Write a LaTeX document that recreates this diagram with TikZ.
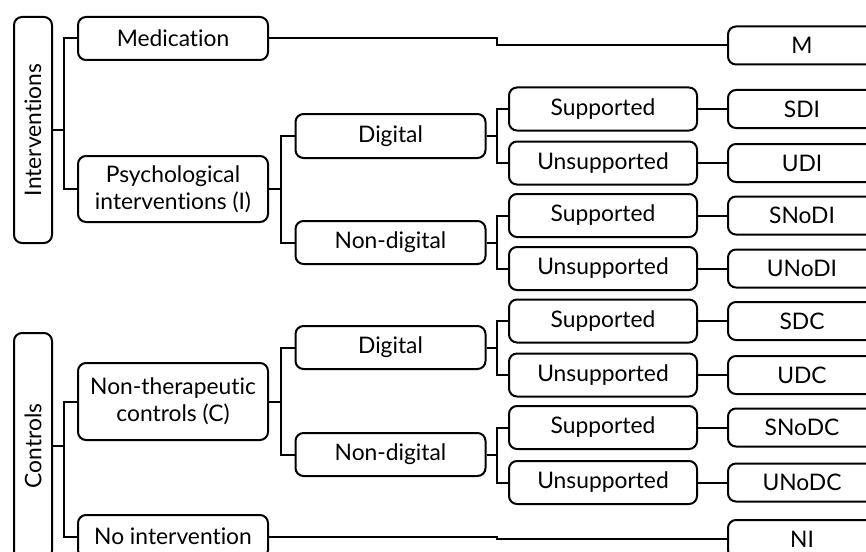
\documentclass[tikz,border=0pt]{standalone}
\usepackage{fontspec}
\setmainfont{Lato}[Ligatures=NoCommon]
\usepackage{tikz}
\usetikzlibrary{calc}

\tikzset{
	box/.style = {draw, line width=1pt, rounded corners=4pt, align=center, inner sep=0pt,
		font=\fontsize{11.4}{13.5}\selectfont, minimum width=95pt, minimum height=21.5pt},
	side/.style = {box, rotate=90, minimum width=113pt, minimum height=19pt},
	sub/.style = {box, minimum width=94pt},
	res/.style = {box, minimum width=74pt, minimum height=19pt},
}

\begin{document}
\begin{tikzpicture}[x=0.5pt, y=-0.5pt, line width=1pt]
		\useasboundingbox (0,0) rectangle (866,551);
		\clip (0,0) rectangle (866,551);
	
		\coordinate (j1) at (64,0);
		\coordinate (j2) at (281,0);
		\coordinate (j3) at (497,0);
	
		\node [side] (intv) at (33,130) {Interventions};
		\node [side] (ctrl) at (33,446) {Controls};
	
		\node [box] (med) at (173,38.5) {Medication};
		\node [box, minimum height=33pt] (psy) at (173,189) {Psychological\\interventions (I)};
		\node [box, minimum height=38.5pt] (ntc) at (173,401.5) {Non-therapeutic\\controls (C)};
		\node [box] (noi) at (173,536.5) {No intervention};
	
		\node [box, minimum height=22pt] (dig1) at (390.5,136) {Digital};
		\node [box] (nd1) at (390.5,242.5) {Non-digital};
		\node [box] (dig2) at (390.5,347.5) {Digital};
		\node [box] (nd2) at (390.5,454.5) {Non-digital};
	
		\foreach \n/\y/\t/\r in {s1/109/Supported/SDI, u1/163/Unsupported/UDI,
				s2/215.5/Supported/SNoDI, u2/268.5/Unsupported/UNoDI,
				s3/321/Supported/SDC, u3/375/Unsupported/UDC,
				s4/427.5/Supported/SNoDC, u4/482.5/Unsupported/UNoDC} {
			\node [sub] (\n) at (603,\y) {\t};
			\node [res] (\r) at (802,\y) {\r};
			\draw (\n) -- (\r);
		}
	
		\node [res] (M) at (802,45.5) {M};
		\node [res] (NI) at (802,539) {NI};
	
		\foreach \p/\a/\b/\j in {intv.south/med/psy/j1, ctrl.south/ntc/noi/j1,
				psy.east/dig1/nd1/j2, ntc.east/dig2/nd2/j2,
				dig1.east/s1/u1/j3, nd1.east/s2/u2/j3,
				dig2.east/s3/u3/j3, nd2.east/s4/u4/j3}
			\draw (\p) -- (\p -| \j) (\a.west) -- (\a -| \j) -- (\b -| \j) -- (\b.west);
	
		\draw (med.east) -- (med -| j3) -- (M -| j3) -- (M.west);
		\draw (noi.east) -- (noi -| j3) -- (NI -| j3) -- (NI.west);
	\end{tikzpicture}
\end{document}
